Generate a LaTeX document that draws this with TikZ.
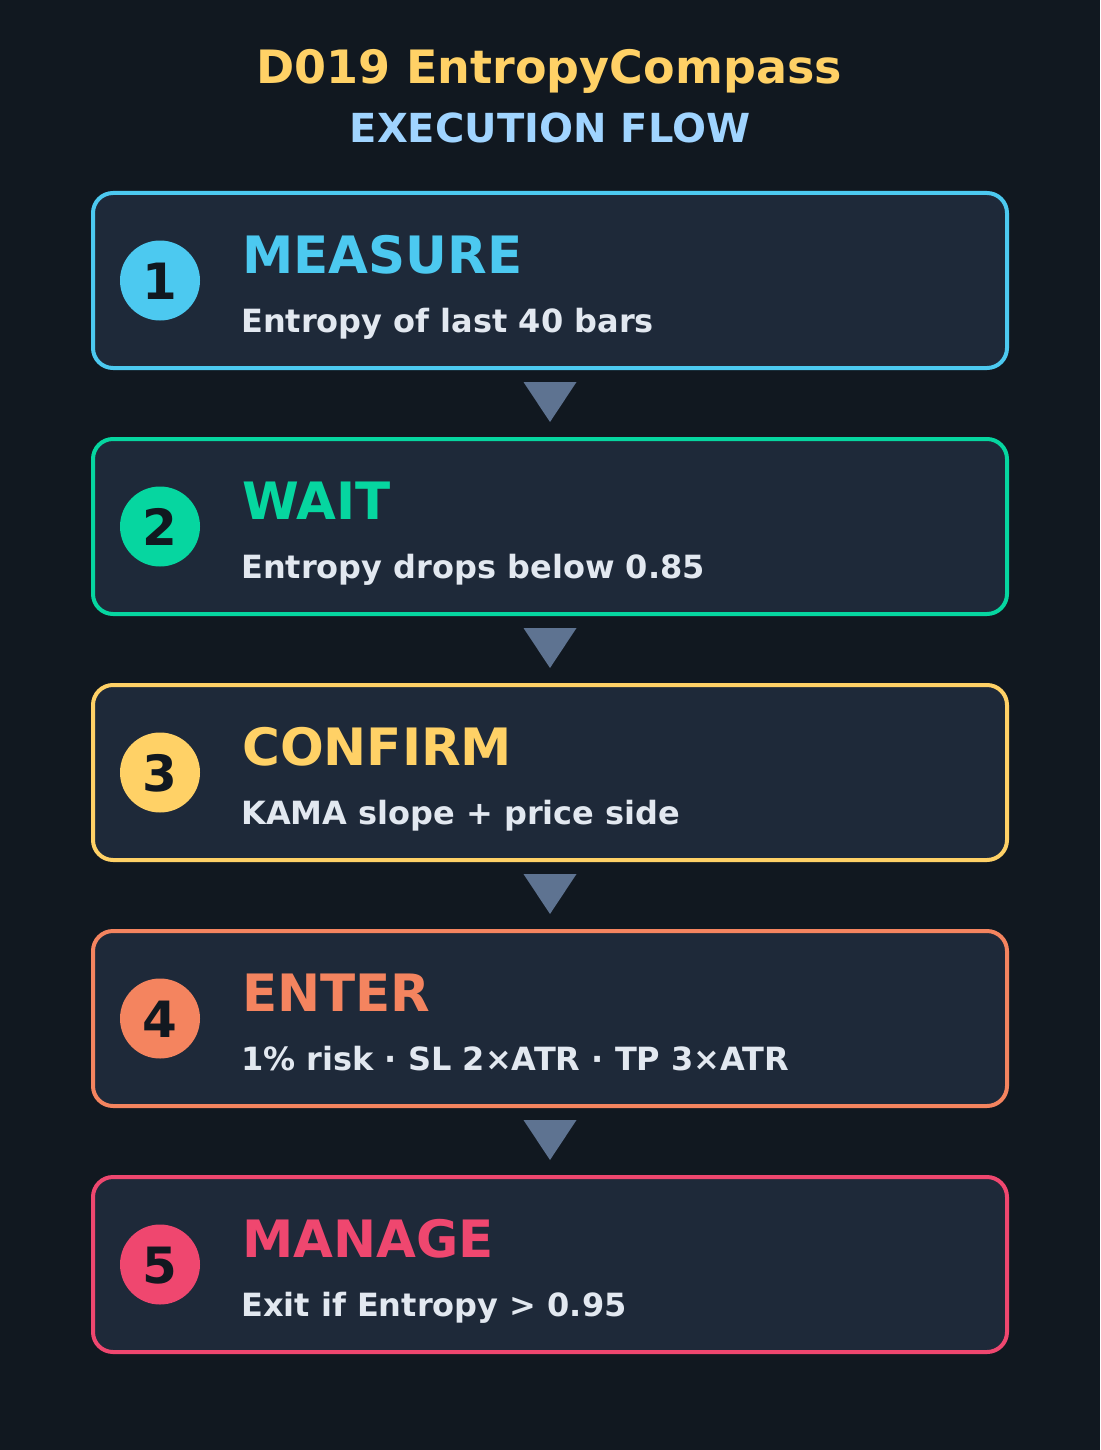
\documentclass[tikz,border=0pt]{standalone}
\usepackage{fontspec}
\setmainfont{DejaVu Sans}
\usetikzlibrary{calc}
\definecolor{bgc}{HTML}{111820}
\definecolor{boxc}{HTML}{1E2939}
\definecolor{titlec}{HTML}{FFD166}
\definecolor{subtc}{HTML}{A0D4FF}
\definecolor{textc}{HTML}{E2E8F0}
\definecolor{arrowc}{HTML}{5E7391}
\definecolor{digitc}{HTML}{111820}
\definecolor{c1}{HTML}{4CC9F0}
\definecolor{c2}{HTML}{06D6A0}
\definecolor{c3}{HTML}{FFD166}
\definecolor{c4}{HTML}{F4845F}
\definecolor{c5}{HTML}{EF476F}
\begin{document}
\begin{tikzpicture}[x=1pt,y=-1pt,
  stepbox/.style={draw=#1, line width=4pt, fill=boxc, rounded corners=20pt,
    minimum width=914pt, minimum height=175pt, outer sep=0pt, inner sep=0pt},
  numdisc/.style={circle, fill=#1, minimum size=80pt, inner sep=0pt, outer sep=0pt},
  digit/.style={anchor=base, text=digitc, font=\fontsize{50}{54}\selectfont\bfseries, inner sep=0pt},
  headtxt/.style={anchor=base west, text=#1, font=\fontsize{51.5}{60}\selectfont\bfseries, inner sep=0pt},
  subtxt/.style={anchor=base west, text=textc, font=\fontsize{32}{36}\selectfont\bfseries, inner sep=0pt},
  tri/.style={fill=arrowc}
]
\fill[bgc] (0,0) rectangle (1100,1450);
\useasboundingbox (0,0) rectangle (1100,1450);

\node[anchor=base, text=titlec, font=\fontsize{46}{54}\selectfont\bfseries, inner sep=0pt] (title) at (549,84) {D019 EntropyCompass};
\node[anchor=base, text=subtc, font=\fontsize{40}{48}\selectfont\bfseries, inner sep=0pt] (subtitle) at (550,143) {EXECUTION FLOW};

\foreach \i/\col/\head/\sub in {
  1/c1/MEASURE/{Entropy of last 40 bars},
  2/c2/WAIT/{Entropy drops below 0.85},
  3/c3/CONFIRM/{KAMA slope + price side},
  4/c4/ENTER/{1\% risk · SL 2×ATR · TP 3×ATR},
  5/c5/MANAGE/{Exit if Entropy > 0.95}}{
  \pgfmathsetmacro{\cy}{280.5+246*(\i-1)}
  \node[stepbox=\col] (b\i) at (550,\cy) {};
  \node[numdisc=\col] (d\i) at (160,\cy) {};
  \node[digit] (n\i) at (160,\cy+18.5) {\i};
  \node[headtxt=\col] (h\i) at (242,\cy-7.5) {\head};
  \node[subtxt] (s\i) at (241,\cy+51.5) {\sub};
}

\foreach \i in {1,2,3,4}{
  \fill[tri] ($(b\i.south)+(-26.5,14)$) -- ($(b\i.south)+(26.5,14)$) -- ($(b\i.south)+(0,54)$) -- cycle;
}
\end{tikzpicture}
\end{document}
